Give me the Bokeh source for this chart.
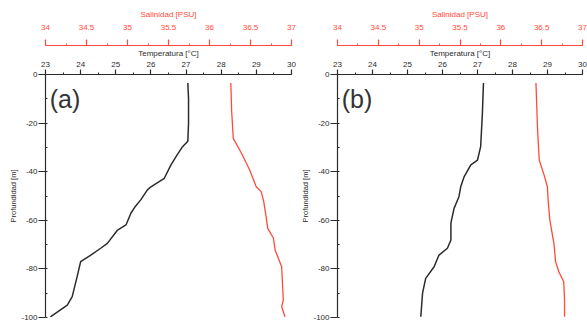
from bokeh.plotting import figure
from bokeh.models import Range1d, LinearAxis, SingleIntervalTicker, NumeralTickFormatter, Label
from bokeh.layouts import row
from bokeh.embed import file_html
from bokeh.resources import INLINE

# ---- data ----
a_temp_depth = [-3.5, -10, -20, -27.5, -29.7, -33, -37.2, -42.7, -46.2, -47.5, -51.6, -54.4, -57.1, -61.9, -64, -69.5, -71.5, -74.3, -77, -83.2, -91.4, -94.9, -99.7]
a_temp = [27.05, 27.07, 27.07, 27.05, 26.9, 26.75, 26.57, 26.38, 26.0, 25.9, 25.71, 25.55, 25.43, 25.29, 25.05, 24.76, 24.57, 24.29, 24.0, 23.9, 23.76, 23.62, 23.14]

a_sal_depth = [-3.5, -15, -26.3, -32.4, -39.3, -46.2, -48.2, -52, -58.5, -63.3, -67.4, -72.2, -79.1, -92.8, -95.6, -99.7]
a_sal = [36.26, 36.27, 36.29, 36.39, 36.49, 36.57, 36.63, 36.66, 36.69, 36.71, 36.78, 36.80, 36.88, 36.90, 36.88, 36.92]

b_temp_depth = [-3.5, -16, -29.7, -35.2, -37.2, -42, -46.2, -50.3, -55.1, -61.2, -68.1, -71.5, -74.3, -79.1, -83.9, -90, -99.7]
b_temp = [27.17, 27.14, 27.09, 27.0, 26.81, 26.62, 26.52, 26.47, 26.33, 26.24, 26.24, 26.14, 25.9, 25.76, 25.52, 25.43, 25.38]

b_sal_depth = [-3.5, -22.8, -35.2, -41.4, -46.2, -52, -59.9, -69.5, -77, -81.2, -85.3, -92.8, -99.7]
b_sal = [36.43, 36.45, 36.47, 36.53, 36.57, 36.58, 36.60, 36.65, 36.67, 36.71, 36.77, 36.78, 36.78]

panel_labels = ["(a)", "(b)"]
temp_title = "Temperatura [°C]"
sal_title = "Salinidad [PSU]"
depth_title = "Profundidad [m]"

RED = "#ff4a3a"
BLACK = "#2b2b2b"
FONT = "Liberation Sans"


def style_axis(ax, color, major_out=4, minor_in=0, minor_out=2):
    ax.axis_line_color = color
    ax.major_tick_line_color = color
    ax.minor_tick_line_color = color
    ax.major_label_text_color = color
    ax.axis_label_text_color = color
    ax.axis_line_width = 1.2
    ax.major_tick_line_width = 1.2
    ax.major_tick_out = major_out
    ax.major_tick_in = 0
    ax.minor_tick_out = minor_out
    ax.minor_tick_in = minor_in
    ax.major_label_text_font = FONT
    ax.axis_label_text_font = FONT
    ax.major_label_text_font_size = "8px"
    ax.axis_label_text_font_size = "8px"
    ax.axis_label_text_font_style = "normal"
    ax.major_label_standoff = 2


def make_panel(temp_d, temp_v, sal_d, sal_v, label, width, left, right):
    p = figure(width=width, height=321, x_range=Range1d(23, 30), y_range=Range1d(-100, 0),
               x_axis_location="above", output_backend="svg", toolbar_location=None,
               min_border_left=left, min_border_right=right, min_border_top=74,
               min_border_bottom=4)
    p.outline_line_color = None
    p.grid.visible = False
    p.background_fill_color = "white"
    p.border_fill_color = "white"
    p.extra_x_ranges = {"sal": Range1d(34, 37)}

    xa = p.xaxis[0]
    xa.ticker = SingleIntervalTicker(interval=1, num_minor_ticks=2)
    xa.formatter = NumeralTickFormatter(format="0")
    xa.axis_label = temp_title
    style_axis(xa, BLACK, major_out=5, minor_in=0, minor_out=2)
    xa.major_label_standoff = 3
    xa.axis_label_standoff = 1

    sa = LinearAxis(x_range_name="sal", axis_label=sal_title,
                    ticker=SingleIntervalTicker(interval=0.5, num_minor_ticks=2),
                    formatter=NumeralTickFormatter(format="0.[0]"))
    style_axis(sa, RED, major_out=6, minor_out=2)
    sa.major_label_standoff = 10
    sa.axis_label_standoff = 3
    p.add_layout(sa, "above")

    ya = p.yaxis[0]
    ya.ticker = SingleIntervalTicker(interval=20, num_minor_ticks=2)
    ya.formatter = NumeralTickFormatter(format="0")
    ya.axis_label = depth_title
    style_axis(ya, BLACK, major_out=7, minor_in=2, minor_out=0)
    ya.major_label_standoff = 1
    ya.axis_label_standoff = 0
    ya.axis_label_text_font_size = "7.5px"

    p.line(temp_v, temp_d, line_color=BLACK, line_width=1.5)
    p.line(sal_v, sal_d, line_color=RED, line_width=1.3, x_range_name="sal")

    p.add_layout(Label(x=23.12, y=-4.5, text=label, text_font=FONT, text_font_size="25px",
                       text_color="#333333", text_baseline="top", text_align="left"))
    return p


p1 = make_panel(a_temp_depth, a_temp, a_sal_depth, a_sal, panel_labels[0], 296, 45, 5)
p2 = make_panel(b_temp_depth, b_temp, b_sal_depth, b_sal, panel_labels[1], 291, 41, 5)

layout = row(p1, p2)
open("out.html", "w").write(file_html(layout, INLINE))
